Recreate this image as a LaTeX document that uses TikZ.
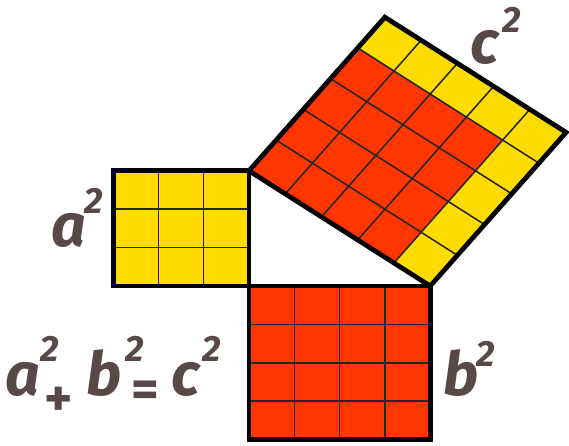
\documentclass[tikz,border=0pt]{standalone}
\usepackage{fontspec}
\setmainfont{Fira Sans}
\usepackage{tikz}
\usepackage{xcolor}

\definecolor{sqyellow}{HTML}{FFDC00}
\definecolor{sqred}{HTML}{FF3600}
\definecolor{labelgray}{HTML}{584848}

\begin{document}
\begin{tikzpicture}[xscale=1.1325, yscale=0.96,
  border/.style={line width=3.4pt},
  gridline/.style={line width=1.1pt, draw=black!85},
  lbl/.style={inner sep=0pt, text=labelgray, font=\fontsize{43}{43}\selectfont\bfseries\itshape},
  suplbl/.style={lbl, font=\fontsize{26}{26}\selectfont\bfseries\itshape},
  oplbl/.style={lbl, font=\fontsize{38}{38}\selectfont\bfseries}]
\fill[white] (-5.497, -4.141) rectangle (7.064, 7.448);
\useasboundingbox (-5.497, -4.141) rectangle (7.064, 7.448);
\coordinate (A) at (0, 3);
\coordinate (B) at (0, 0);
\coordinate (C) at (4, 0);
% square on a
\fill[sqyellow] (-3, 0) rectangle (A);
\draw[gridline] (-3, 0) grid (A);
\draw[border] (-3, 0) rectangle (A);
% square on b
\fill[sqred] (B) rectangle (4, -4);
\draw[gridline] (B) grid (4, -4);
\draw[border] (B) rectangle (4, -4);
% square on c
\begin{scope}[cm={0.8, -0.6, 0.6, 0.8, (A)}]
\fill[sqyellow] (0, 0) rectangle (5, 5);
\fill[sqred] (0, 0) rectangle (4, 4);
\draw[gridline] (0, 0) grid (5, 5);
\draw[border] (0, 0) rectangle (5, 5);
\end{scope}
% labels
\node[lbl, anchor=base west] (a) at (-4.371, 1.016) {a};
\node[suplbl, anchor=base west] (a2) at (-3.63, 1.901) {2};
\node[lbl, anchor=base west] (c) at (4.879, 5.807) {c};
\node[suplbl, anchor=base west] (c2) at (5.585, 6.589) {2};
\node[lbl, anchor=base west] (b) at (4.283, -2.839) {b};
\node[suplbl, anchor=base west] (b2) at (5.011, -2.109) {2};
% a^2 + b^2 = c^2
\node[lbl, anchor=base west] (eqa) at (-5.386, -2.839) {a};
\node[suplbl, anchor=base west] (eqa2) at (-4.614, -1.979) {2};
\node[oplbl] (eqplus) at (-4.205, -3.02) {+};
\node[lbl, anchor=base west] (eqb) at (-3.598, -2.839) {b};
\node[suplbl, anchor=base west] (eqb2) at (-2.737, -1.979) {2};
\node[oplbl] (eqeq) at (-2.296, -2.83) {=};
\node[lbl, anchor=base west] (eqc) at (-1.722, -2.839) {c};
\node[suplbl, anchor=base west] (eqc2) at (-1.038, -1.979) {2};
\end{tikzpicture}
\end{document}
